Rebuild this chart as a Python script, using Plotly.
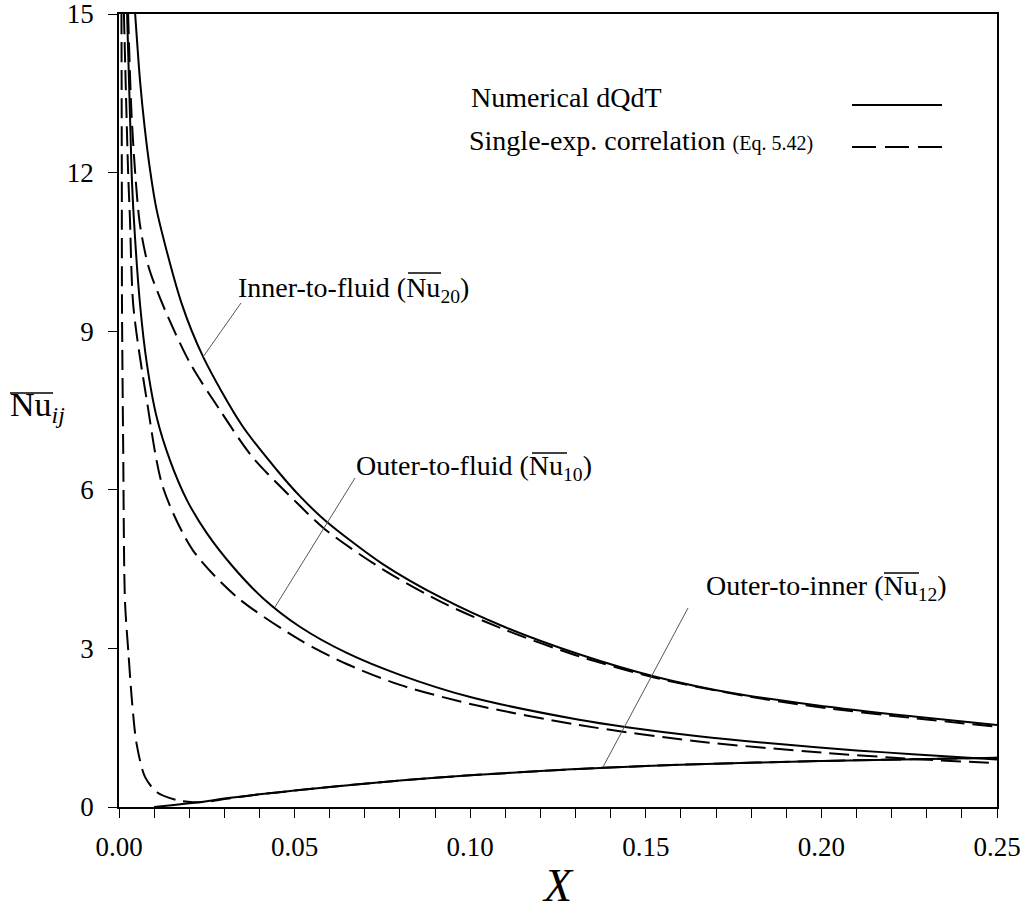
import plotly.graph_objects as go

# ---------------- data ----------------
x_nu20_num = [0.0046, 0.006, 0.0073, 0.0088, 0.0107, 0.0178, 0.024, 0.035, 0.045, 0.0515,
              0.0587, 0.075, 0.0923, 0.11, 0.131, 0.153, 0.175, 0.198, 0.225, 0.25]
nu20_num = [15.0, 13.73, 12.86, 12.07, 11.3, 9.53, 8.51, 7.22, 6.37, 5.88,
            5.42, 4.6, 3.94, 3.4, 2.89, 2.46, 2.15, 1.93, 1.72, 1.55]

x_nu20_cor = [0.0026, 0.0035, 0.0046, 0.006, 0.0085, 0.0131, 0.0202, 0.0288, 0.038, 0.0507,
              0.0587, 0.075, 0.0923, 0.11, 0.131, 0.153, 0.175, 0.198, 0.225, 0.25]
nu20_cor = [15.0, 13.2, 12.0, 11.0, 10.2, 9.4, 8.4, 7.5, 6.62, 5.75,
            5.25, 4.5, 3.86, 3.35, 2.85, 2.44, 2.14, 1.9, 1.69, 1.52]

x_nu10_num = [0.0023, 0.0036, 0.0042, 0.006, 0.0079, 0.0107, 0.0145, 0.0193, 0.025, 0.0325,
              0.041, 0.0515, 0.065, 0.08, 0.1, 0.131, 0.1446, 0.165, 0.188, 0.21,
              0.226, 0.25]
nu10_num = [15.0, 12.0, 11.16, 9.5, 8.4, 7.38, 6.56, 5.81, 5.18, 4.54,
            3.95, 3.41, 2.91, 2.5, 2.08, 1.65, 1.51, 1.34, 1.19, 1.07,
            1.0, 0.9]

x_nu10_cor = [0.0014, 0.0026, 0.0031, 0.0041, 0.0079, 0.0125, 0.021, 0.0336, 0.0515, 0.065,
              0.08, 0.1, 0.131, 0.165, 0.2, 0.226, 0.25]
nu10_cor = [15.0, 12.0, 11.16, 9.46, 7.7, 6.05, 4.86, 3.97, 3.16, 2.7,
            2.31, 1.95, 1.55, 1.24, 1.03, 0.91, 0.83]

x_nu12_num = [0.01, 0.015, 0.02, 0.025, 0.03, 0.04, 0.05, 0.06, 0.08, 0.1,
              0.12, 0.137, 0.16, 0.2, 0.25]
nu12_num = [0.0, 0.035, 0.07, 0.11, 0.16, 0.24, 0.31, 0.38, 0.5, 0.6,
            0.68, 0.74, 0.8, 0.87, 0.93]

x_nu12_cor = [0.0007, 0.0008, 0.00085, 0.0012, 0.0017, 0.0027, 0.0037, 0.005, 0.0074, 0.0108,
              0.0165, 0.021, 0.025, 0.03, 0.04, 0.05, 0.06, 0.08, 0.1, 0.12,
              0.137, 0.16, 0.2, 0.25]
nu12_cor = [15.0, 12.0, 9.5, 6.75, 3.9, 2.9, 2.0, 1.2, 0.57, 0.28,
            0.13, 0.09, 0.1, 0.15, 0.24, 0.31, 0.38, 0.5, 0.6, 0.68,
            0.74, 0.8, 0.87, 0.93]

x_tickvals = [0.0, 0.05, 0.10, 0.15, 0.20, 0.25]
x_ticktext = ["0.00", "0.05", "0.10", "0.15", "0.20", "0.25"]
y_tickvals = [0, 3, 6, 9, 12, 15]

legend_labels = ["Numerical dQdT",
                 "Single-exp. correlation <span style='font-size:20px'>(Eq. 5.42)</span>"]
curve_labels = ["Inner-to-fluid (Nu<sub>20</sub>)",
                "Outer-to-fluid (Nu<sub>10</sub>)",
                "Outer-to-inner (Nu<sub>12</sub>)"]

# ---------------- layout geometry ----------------
W, H = 1027, 911
L, R, T, B = 119, 30, 14, 104
PW, PH = W - L - R, H - T - B
FONT = "Liberation Serif, 'Times New Roman', 'DejaVu Serif', 'Noto Serif', FreeSerif, serif"


def fx(px):
    return (px - L) / PW


def fy(py):
    return (H - B - py) / PH


SOLID = dict(color="black", width=2)
DASH = dict(color="black", width=2, dash="20px,8px")

fig = go.Figure()
series = [
    (x_nu20_num, nu20_num, SOLID), (x_nu20_cor, nu20_cor, DASH),
    (x_nu10_num, nu10_num, SOLID), (x_nu10_cor, nu10_cor, DASH),
    (x_nu12_num, nu12_num, SOLID), (x_nu12_cor, nu12_cor, DASH),
]
for xs, ys, ln in series:
    fig.add_trace(go.Scatter(x=xs, y=ys, mode="lines", line=dict(shape="spline", smoothing=0.8, **ln),
                             showlegend=False, hoverinfo="skip"))

fig.update_layout(
    width=W, height=H,
    margin=dict(l=L, r=R, t=T, b=B, autoexpand=False),
    paper_bgcolor="white", plot_bgcolor="white",
    font=dict(family=FONT, color="black", size=27),
    xaxis=dict(range=[0, 0.25], tickvals=x_tickvals, ticktext=x_ticktext, automargin=False,
               ticks="outside", ticklen=9, tickwidth=1.3, tickcolor="black",
               showline=True, linecolor="black", linewidth=1.5, mirror=True,
               showgrid=False, zeroline=False, ticklabelstandoff=6, ticklabeloverflow="allow",
               minor=dict(dtick=0.01, tick0=0, ticks="outside", ticklen=9, tickwidth=1.3,
                          tickcolor="black", showgrid=False)),
    yaxis=dict(range=[0, 15], tickvals=y_tickvals, automargin=False,
               ticks="outside", ticklen=9, tickwidth=1.3, tickcolor="black",
               showline=True, linecolor="black", linewidth=1.5, mirror=True,
               showgrid=False, zeroline=False, ticklabelstandoff=9, ticklabeloverflow="allow"),
)

ann = []
shapes = []

# axis titles
ann.append(dict(text="<i>X</i>", xref="paper", yref="paper", x=fx(558), y=fy(886),
                xanchor="center", yanchor="middle", showarrow=False, font=dict(size=46)))
ann.append(dict(text="Nu<sub><i>ij</i></sub>", xref="paper", yref="paper", x=fx(9), y=fy(407),
                xanchor="left", yanchor="middle", showarrow=False, font=dict(size=34), borderpad=0))
shapes.append(dict(type="line", xref="paper", yref="paper", x0=fx(10), x1=fx(53), y0=fy(393), y1=fy(393),
                   line=dict(color="black", width=1.3)))

# legend
ann.append(dict(text=legend_labels[0], xref="paper", yref="paper", x=fx(470), y=fy(98),
                xanchor="left", yanchor="middle", showarrow=False, font=dict(size=28), borderpad=0))
ann.append(dict(text=legend_labels[1], xref="paper", yref="paper", x=fx(468), y=fy(141),
                xanchor="left", yanchor="middle", showarrow=False, font=dict(size=28), borderpad=0))
shapes.append(dict(type="line", xref="paper", yref="paper", x0=fx(852), x1=fx(942), y0=fy(105), y1=fy(105),
                   line=dict(color="black", width=2)))
shapes.append(dict(type="line", xref="paper", yref="paper", x0=fx(852), x1=fx(942), y0=fy(147), y1=fy(147),
                   line=dict(color="black", width=2, dash="24px,9px")))

# curve labels with pointers (pixel positions of text; pointer ends)
label_pos = [(237, 289), (355, 468), (705, 587)]
overlines = [(408, 441, 273), (532, 567, 453), (884, 919, 573)]
pointers = [((241, 303), (203, 357)), ((355, 478), (275, 607)), ((688, 608), (603, 767))]
for text, (px, py), (ox0, ox1, oy), (p0, p1) in zip(curve_labels, label_pos, overlines, pointers):
    ann.append(dict(text=text, xref="paper", yref="paper", x=fx(px), y=fy(py),
                    xanchor="left", yanchor="middle", showarrow=False, font=dict(size=28), borderpad=0))
    shapes.append(dict(type="line", xref="paper", yref="paper", x0=fx(ox0), x1=fx(ox1), y0=fy(oy), y1=fy(oy),
                       line=dict(color="black", width=1.3)))
    shapes.append(dict(type="line", xref="paper", yref="paper", x0=fx(p0[0]), y0=fy(p0[1]),
                       x1=fx(p1[0]), y1=fy(p1[1]), line=dict(color="#555555", width=1)))

fig.update_layout(annotations=ann, shapes=shapes)
fig.write_html("out.html")
